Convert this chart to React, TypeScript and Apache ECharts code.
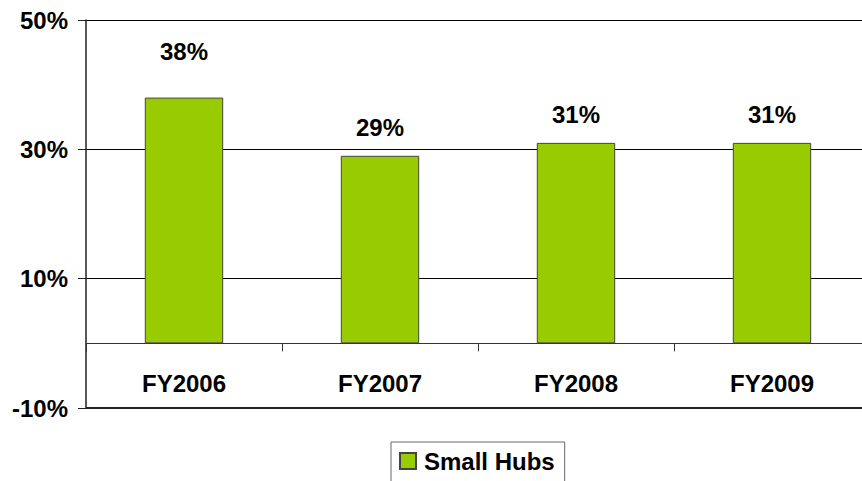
import React, { useEffect, useRef } from "react";
import * as echarts from "echarts";

const categories = ["FY2006", "FY2007", "FY2008", "FY2009"];
const smallHubs = [38, 29, 31, 31];
const labelDistances = [34, 16, 16, 16];
const seriesName = "Small Hubs";
const yMin = -10;

export default function App() {
  const ref = useRef<HTMLDivElement>(null);
  useEffect(() => {
    if (!ref.current) return;
    const chart = echarts.init(ref.current, null, { renderer: "svg" });
    const font = "'Liberation Sans', Arial, sans-serif";
    chart.setOption({
      animation: false,
      backgroundColor: "#ffffff",
      textStyle: { fontFamily: font },
      grid: {
        left: 86,
        top: 20,
        width: 784,
        height: 388,
        containLabel: false,
        outerBoundsMode: "none",
      },
      legend: {
        data: [seriesName],
        left: 391,
        top: 442,
        icon: "rect",
        itemWidth: 16,
        itemHeight: 16,
        borderColor: "#666",
        borderWidth: 1,
        padding: [7, 10, 12, 8],
        textStyle: {
          fontFamily: font,
          fontSize: 24,
          fontWeight: "bold",
          color: "#000",
          padding: [0, 0, 0, 3],
        },
      },
      xAxis: {
        type: "category",
        data: categories,
        axisLine: { show: true, onZero: true, lineStyle: { color: "#333", width: 1 } },
        axisTick: { show: true, length: 8, lineStyle: { color: "#333" } },
        axisLabel: {
          margin: -37,
          fontFamily: font,
          fontSize: 24,
          fontWeight: "bold",
          color: "#000",
        },
        splitLine: { show: false },
      },
      yAxis: {
        type: "value",
        min: yMin,
        max: 50,
        interval: 20,
        axisLine: { show: true, lineStyle: { color: "#222", width: 1.5 } },
        axisTick: { show: true, length: 8, lineStyle: { color: "#222" } },
        axisLabel: {
          margin: 18,
          formatter: "{value}%",
          fontFamily: font,
          fontSize: 24,
          fontWeight: "bold",
          color: "#000",
        },
        splitLine: { show: true, lineStyle: { color: "#000", width: 1 } },
      },
      series: [
        {
          name: seriesName,
          type: "bar",
          barWidth: "40%",
          data: smallHubs.map((v, i) => ({
            value: v,
            label: { distance: labelDistances[i] },
          })),
          itemStyle: { color: "#99CC00", borderColor: "#444", borderWidth: 1 },
          label: {
            show: true,
            position: "top",
            formatter: "{c}%",
            fontFamily: font,
            fontSize: 24,
            fontWeight: "bold",
            color: "#000",
          },
          markLine: {
            silent: true,
            symbol: "none",
            label: { show: false },
            lineStyle: { color: "#222", width: 2, type: "solid" },
            data: [{ yAxis: yMin }],
          },
        },
      ],
    });
    return () => chart.dispose();
  }, []);
  return (
    <div
      ref={ref}
      style={{ position: "fixed", left: 0, top: 0, width: 862, height: 481 }}
    />
  );
}
